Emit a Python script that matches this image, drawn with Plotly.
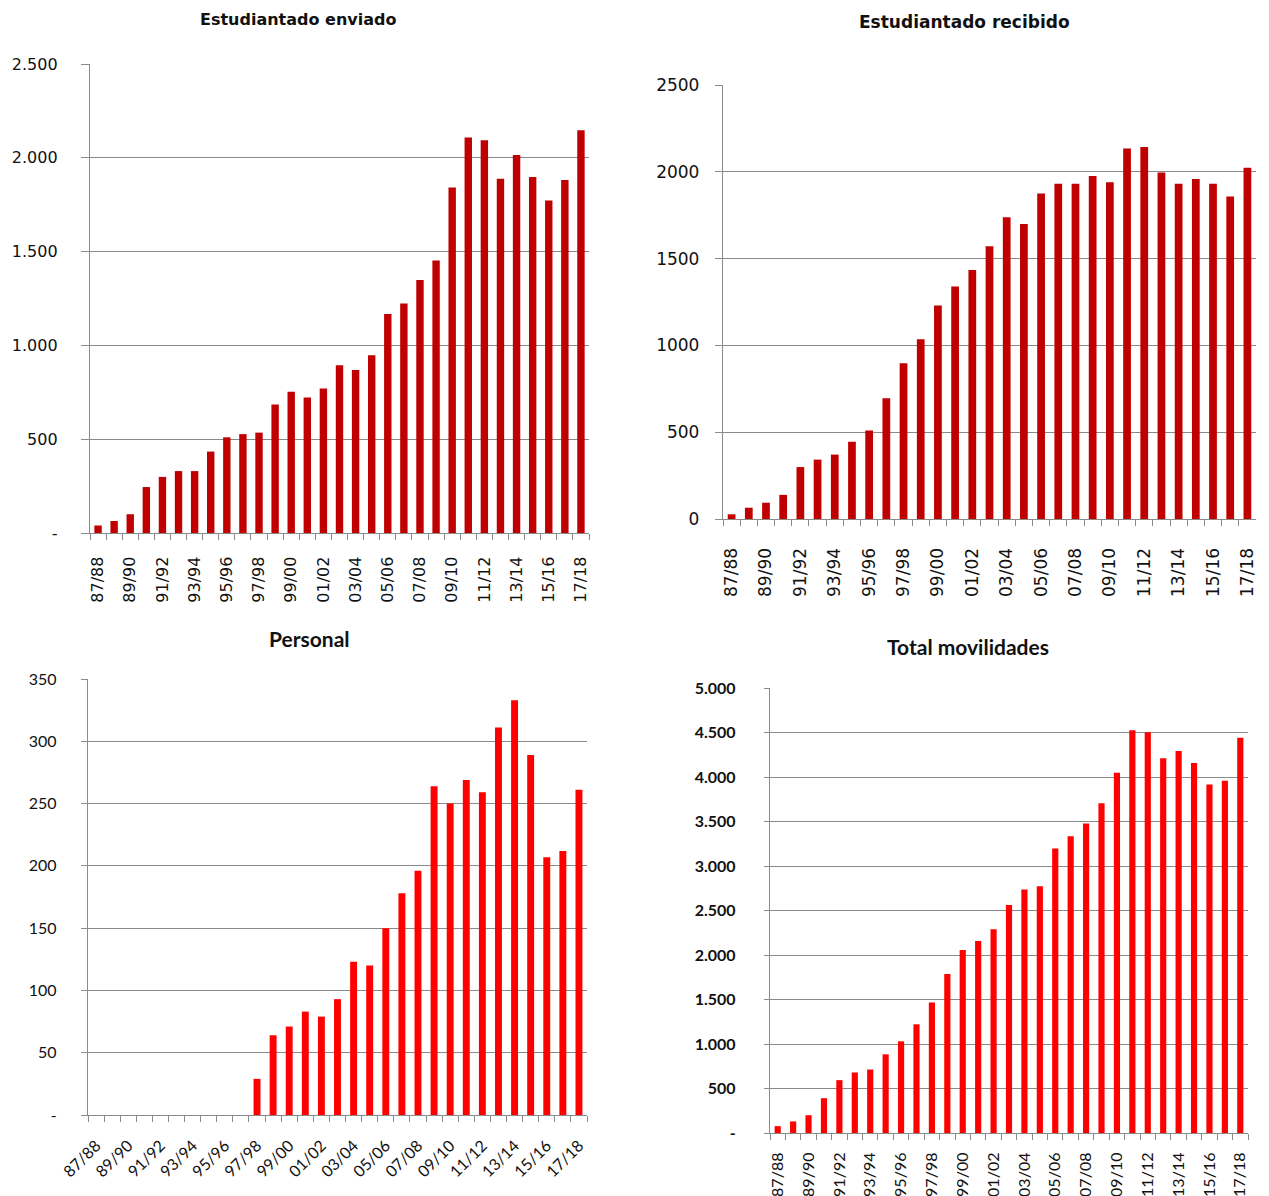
import plotly.graph_objects as go

# ---------------- data ----------------
categories = ["87/88", "88/89", "89/90", "90/91", "91/92", "92/93", "93/94", "94/95",
              "95/96", "96/97", "97/98", "98/99", "99/00", "00/01", "01/02", "02/03",
              "03/04", "04/05", "05/06", "06/07", "07/08", "08/09", "09/10", "10/11",
              "11/12", "12/13", "13/14", "14/15", "15/16", "16/17", "17/18"]

enviado = [40, 64, 100, 245, 299, 330, 330, 434, 510, 527, 535, 685, 753, 722, 770, 894,
           869, 948, 1168, 1224, 1349, 1452, 1842, 2108, 2093, 1888, 2015, 1898, 1772, 1882, 2147]

recibido = [27, 65, 94, 139, 299, 342, 371, 445, 510, 695, 897, 1036, 1230, 1340, 1434, 1571,
            1738, 1700, 1875, 1931, 1931, 1976, 1940, 2134, 2143, 1996, 1931, 1958, 1931, 1857, 2023]

personal = [0, 0, 0, 0, 0, 0, 0, 0, 0, 0, 29, 64, 71, 83, 79, 93,
            123, 120, 150, 178, 196, 264, 250, 269, 259, 311, 333, 289, 207, 212, 261]

total = [77, 130, 200, 391, 594, 680, 713, 884, 1030, 1221, 1466, 1787, 2056, 2158, 2288, 2561,
         2736, 2773, 3196, 3335, 3477, 3705, 4047, 4524, 4503, 4210, 4292, 4157, 3917, 3958, 4442]

titles = ["Estudiantado enviado", "Estudiantado recibido", "Personal", "Total movilidades"]

y1_vals = [0, 500, 1000, 1500, 2000, 2500]
y1_text = ["-", "500", "1.000", "1.500", "2.000", "2.500"]
y2_vals = [0, 500, 1000, 1500, 2000, 2500]
y2_text = ["0", "500", "1000", "1500", "2000", "2500"]
y3_vals = [0, 50, 100, 150, 200, 250, 300, 350]
y3_text = ["-", "50", "100", "150", "200", "250", "300", "350"]
y4_vals = [0, 500, 1000, 1500, 2000, 2500, 3000, 3500, 4000, 4500, 5000]
y4_text = ["-", "500", "1.000", "1.500", "2.000", "2.500", "3.000", "3.500", "4.000", "4.500", "5.000"]

# ---------------- figure ----------------
W, H = 1269, 1196
DARK_RED = "#C00000"
RED = "#FF0000"
GRID = "#8a8a8a"
TXT = "#111111"

x_ticktext = [c if i % 2 == 0 else "" for i, c in enumerate(categories)]

fig = go.Figure()
fig.add_trace(go.Bar(x=categories, y=enviado, marker=dict(color=DARK_RED, line=dict(width=0)),
                     width=0.46, xaxis="x", yaxis="y", showlegend=False))
fig.add_trace(go.Bar(x=categories, y=recibido, marker=dict(color=DARK_RED, line=dict(width=0)),
                     width=0.45, xaxis="x2", yaxis="y2", showlegend=False))
fig.add_trace(go.Bar(x=categories, y=personal, marker=dict(color=RED, line=dict(width=0)),
                     width=0.43, xaxis="x3", yaxis="y3", showlegend=False))
fig.add_trace(go.Bar(x=categories, y=total, marker=dict(color=RED, line=dict(width=0)),
                     width=0.40, xaxis="x4", yaxis="y4", showlegend=False))


def px_x(a, b):
    return [a / W, b / W]


def px_y(top, bottom):
    return [1 - bottom / H, 1 - top / H]


def xaxis(domain, anchor, font, angle, standoff):
    return dict(domain=domain, anchor=anchor, type="category", categoryarray=categories,
                tickmode="array", tickvals=categories, ticktext=x_ticktext,
                tickson="boundaries", ticks="outside", ticklen=6, tickcolor=GRID,
                tickwidth=1.3, showline=True, linecolor=GRID, linewidth=1.3,
                showgrid=False, zeroline=False, tickangle=angle, tickfont=font,
                ticklabelstandoff=standoff, automargin=False, fixedrange=True)


def yaxis(domain, anchor, vals, text, rng, font, ticklen, standoff):
    return dict(domain=domain, anchor=anchor, range=rng, tickmode="array", tickvals=vals,
                ticktext=text, ticks="outside", ticklen=ticklen, tickcolor=GRID, tickwidth=1.3,
                showline=True, linecolor=GRID, linewidth=1.3, showgrid=True, gridcolor=GRID,
                gridwidth=1.3, zeroline=False, tickfont=font, ticklabelstandoff=standoff,
                automargin=False, fixedrange=True)


f1 = dict(family="DejaVu Sans", size=16, color=TXT)
f2 = dict(family="DejaVu Sans", size=17, color=TXT)
f3 = dict(family="Lato", size=16, color=TXT)
f4y = dict(family="Lato", size=16, color=TXT, weight="bold")
f4x = dict(family="Lato", size=16, color=TXT)

fig.update_layout(
    width=W, height=H, autosize=False,
    margin=dict(l=0, r=0, t=0, b=0, pad=0, autoexpand=False),
    paper_bgcolor="white", plot_bgcolor="white",
    bargap=0.55,
    xaxis=xaxis(px_x(90, 589), "y", f1, -90, 16),
    yaxis=yaxis(px_y(64, 533), "x", y1_vals, y1_text, [0, 2500], f1, 8, 20),
    xaxis2=xaxis(px_x(723, 1256), "y2", f2, -90, 21),
    yaxis2=yaxis(px_y(85, 519), "x2", y2_vals, y2_text, [0, 2500], f2, 7, 12),
    xaxis3=xaxis(px_x(88, 587), "y3", f3, -45, 14),
    yaxis3=yaxis(px_y(679, 1115), "x3", y3_vals, y3_text, [0, 350], f3, 6, 21),
    xaxis4=xaxis(px_x(770, 1248), "y4", f4x, -90, 12),
    yaxis4=yaxis(px_y(688, 1133), "x4", y4_vals, y4_text, [0, 5000], f4y, 5, 25),
)

title_pos = [(298, 20, "DejaVu Sans", 16), (964, 22, "DejaVu Sans", 17),
             (309, 638, "Lato", 21), (968, 646, "Lato", 21)]
for t, (x, y, fam, sz) in zip(titles, title_pos):
    fig.add_annotation(text=t, x=x / W, y=1 - y / H, xref="paper", yref="paper",
                       xanchor="center", yanchor="middle", showarrow=False,
                       font=dict(family=fam, size=sz, color=TXT, weight="bold"))

fig.write_html("out.html", config={"displayModeBar": False},
               post_script="document.body.style.margin='0';")
